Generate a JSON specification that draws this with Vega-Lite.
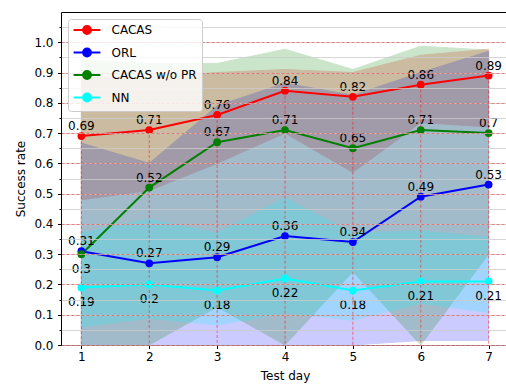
{
  "$schema": "https://vega.github.io/schema/vega-lite/v6.json",
  "width": 448,
  "height": 333,
  "autosize": {"type": "none"},
  "padding": {"left": 61, "top": 12, "right": 0, "bottom": 42},
  "background": "white",
  "config": {
    "font": "DejaVu Sans",
    "view": {"stroke": "#000000", "strokeWidth": 1},
    "axis": {
      "labelFont": "DejaVu Sans",
      "titleFont": "DejaVu Sans",
      "labelFontSize": 12,
      "titleFontSize": 12,
      "titleFontWeight": "normal",
      "labelColor": "#000000",
      "titleColor": "#000000",
      "tickColor": "#000000",
      "domain": false
    }
  },
  "data": {
    "values": [
      {"method": "CACAS", "day": 1, "mean": 0.69, "lo": 0.48, "hi": 0.885},
      {"method": "CACAS", "day": 2, "mean": 0.71, "lo": 0.51, "hi": 0.885},
      {"method": "CACAS", "day": 3, "mean": 0.76, "lo": 0.60, "hi": 0.90},
      {"method": "CACAS", "day": 4, "mean": 0.84, "lo": 0.70, "hi": 0.91},
      {"method": "CACAS", "day": 5, "mean": 0.82, "lo": 0.57, "hi": 0.90},
      {"method": "CACAS", "day": 6, "mean": 0.86, "lo": 0.735, "hi": 0.957},
      {"method": "CACAS", "day": 7, "mean": 0.89, "lo": 0.72, "hi": 0.977},
      {"method": "ORL", "day": 1, "mean": 0.31, "lo": 0.0, "hi": 0.667},
      {"method": "ORL", "day": 2, "mean": 0.27, "lo": 0.0, "hi": 0.60},
      {"method": "ORL", "day": 3, "mean": 0.29, "lo": 0.0, "hi": 0.79},
      {"method": "ORL", "day": 4, "mean": 0.36, "lo": 0.0, "hi": 0.865},
      {"method": "ORL", "day": 5, "mean": 0.34, "lo": 0.0, "hi": 0.825},
      {"method": "ORL", "day": 6, "mean": 0.49, "lo": 0.015, "hi": 0.90},
      {"method": "ORL", "day": 7, "mean": 0.53, "lo": 0.015, "hi": 0.97},
      {"method": "CACAS w/o PR", "day": 1, "mean": 0.3, "lo": 0.0, "hi": 0.94},
      {"method": "CACAS w/o PR", "day": 2, "mean": 0.52, "lo": 0.0, "hi": 0.93},
      {"method": "CACAS w/o PR", "day": 3, "mean": 0.67, "lo": 0.126, "hi": 0.93},
      {"method": "CACAS w/o PR", "day": 4, "mean": 0.71, "lo": 0.0, "hi": 0.977},
      {"method": "CACAS w/o PR", "day": 5, "mean": 0.65, "lo": 0.242, "hi": 0.91},
      {"method": "CACAS w/o PR", "day": 6, "mean": 0.71, "lo": 0.0, "hi": 0.987},
      {"method": "CACAS w/o PR", "day": 7, "mean": 0.7, "lo": 0.30, "hi": 0.974},
      {"method": "NN", "day": 1, "mean": 0.19, "lo": 0.06, "hi": 0.37},
      {"method": "NN", "day": 2, "mean": 0.2, "lo": 0.089, "hi": 0.416},
      {"method": "NN", "day": 3, "mean": 0.18, "lo": 0.066, "hi": 0.37},
      {"method": "NN", "day": 4, "mean": 0.22, "lo": 0.105, "hi": 0.486},
      {"method": "NN", "day": 5, "mean": 0.18, "lo": 0.082, "hi": 0.37},
      {"method": "NN", "day": 6, "mean": 0.21, "lo": 0.138, "hi": 0.377},
      {"method": "NN", "day": 7, "mean": 0.21, "lo": 0.107, "hi": 0.356}
    ]
  },
  "encoding": {
    "x": {
      "field": "day",
      "type": "quantitative",
      "scale": {"domain": [0.7, 7.3], "nice": false, "zero": false},
      "axis": {
        "values": [1, 2, 3, 4, 5, 6, 7],
        "format": "d",
        "title": "Test day",
        "grid": false,
        "tickSize": 3.5,
        "labelPadding": 3,
        "titlePadding": 8
      }
    }
  },
  "layer": [
    {
      "mark": {"type": "area", "opacity": 0.2, "strokeWidth": 1},
      "encoding": {
        "y": {
          "field": "lo",
          "type": "quantitative",
          "scale": {"domain": [0, 1.1], "nice": false, "zero": false},
          "axis": {
            "orient": "left",
            "values": [0, 0.05, 0.1, 0.15, 0.2, 0.25, 0.3, 0.35, 0.4, 0.45, 0.5, 0.55, 0.6, 0.65, 0.7, 0.75, 0.8, 0.85, 0.9, 0.95, 1.0, 1.05],
            "grid": true,
            "gridColor": "#cccccc",
            "gridWidth": 0.8,
            "labels": false,
            "ticks": true,
            "tickSize": 2,
            "title": null,
            "zindex": 1
          }
        },
        "y2": {"field": "hi"},
        "color": {
          "field": "method",
          "type": "nominal",
          "scale": {
            "domain": ["CACAS", "ORL", "CACAS w/o PR", "NN"],
            "range": ["#ff0000", "#0000ff", "#008000", "#00ffff"]
          }
        },
        "stroke": {
          "field": "method",
          "type": "nominal",
          "scale": {
            "domain": ["CACAS", "ORL", "CACAS w/o PR", "NN"],
            "range": ["#ff0000", "#0000ff", "#008000", "#00ffff"]
          },
          "legend": null
        }
      }
    },
    {
      "transform": [{"filter": "datum.method == 'CACAS'"}],
      "mark": {"type": "rule", "color": "#ff0000", "opacity": 0.55, "strokeWidth": 0.9, "strokeDash": [3, 2]},
      "encoding": {
        "y": {"field": "mean", "type": "quantitative", "axis": null}
      }
    },
    {
      "mark": {"type": "line", "strokeWidth": 2, "point": {"filled": true, "size": 60, "opacity": 1}},
      "encoding": {
        "y": {
          "field": "mean",
          "type": "quantitative",
          "axis": {
            "orient": "left",
            "values": [0, 0.1, 0.2, 0.3, 0.4, 0.5, 0.6, 0.7, 0.8, 0.9, 1.0],
            "format": ".1f",
            "grid": true,
            "gridColor": "#ff0000",
            "gridOpacity": 0.5,
            "gridDash": [3, 2],
            "gridWidth": 0.8,
            "tickSize": 3.5,
            "labelPadding": 4.5,
            "title": "Success rate",
            "titlePadding": 6,
            "zindex": 1
          }
        },
        "color": {
          "field": "method",
          "type": "nominal",
          "scale": {
            "domain": ["CACAS", "ORL", "CACAS w/o PR", "NN"],
            "range": ["#ff0000", "#0000ff", "#008000", "#00ffff"]
          },
          "legend": {
            "title": null,
            "orient": "top-left",
            "offset": 7,
            "padding": 5,
            "fillColor": "rgba(255,255,255,0.8)",
            "strokeColor": "#cccccc",
            "cornerRadius": 3,
            "labelFont": "DejaVu Sans",
            "labelFontSize": 12,
            "labelColor": "#000000",
            "symbolType": "M-3.35,0H3.35M-1,0A1,1 0 1,0 1,0A1,1 0 1,0 -1,0Z",
            "symbolSize": 64,
            "symbolStrokeWidth": 1.8,
            "symbolOffset": 8,
            "labelOffset": 18.5,
            "rowPadding": 6.5,
            "zindex": 2,
            "encode": {
              "symbols": {
                "update": {
                  "fill": {"scale": "color", "field": "value"},
                  "stroke": {"scale": "color", "field": "value"},
                  "opacity": {"value": 1},
                  "fillOpacity": {"value": 1},
                  "strokeOpacity": {"value": 1}
                }
              }
            }
          }
        }
      }
    },
    {
      "transform": [{"filter": "datum.method != 'NN' && !(datum.method == 'CACAS w/o PR' && datum.day == 1)"}],
      "mark": {"type": "text", "baseline": "alphabetic", "align": "center", "dy": -6, "fontSize": 12, "font": "DejaVu Sans", "color": "#000000"},
      "encoding": {
        "y": {"field": "mean", "type": "quantitative", "axis": null},
        "text": {"field": "mean", "type": "quantitative", "format": "~g"}
      }
    },
    {
      "transform": [{"filter": "datum.method == 'NN' || (datum.method == 'CACAS w/o PR' && datum.day == 1)"}],
      "mark": {"type": "text", "baseline": "alphabetic", "align": "center", "dy": 18.5, "fontSize": 12, "font": "DejaVu Sans", "color": "#000000"},
      "encoding": {
        "y": {"field": "mean", "type": "quantitative", "axis": null},
        "text": {"field": "mean", "type": "quantitative", "format": "~g"}
      }
    }
  ],
  "resolve": {"scale": {"y": "shared"}, "axis": {"y": "independent"}}
}
